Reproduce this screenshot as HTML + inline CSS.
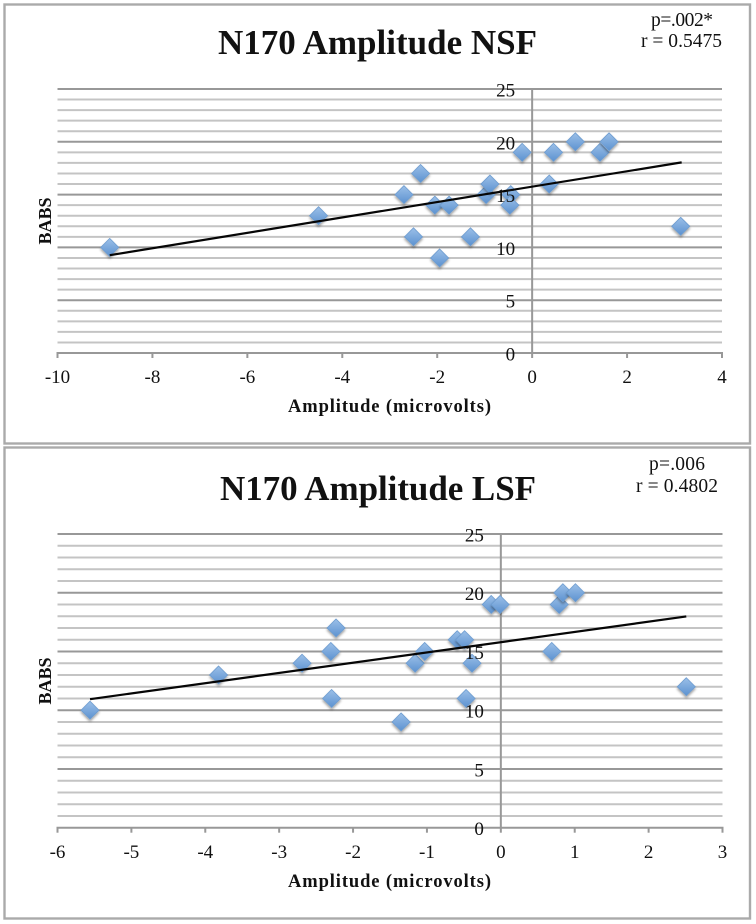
<!DOCTYPE html>
<html lang="en">
<head>
<meta charset="utf-8">
<title>N170 Amplitude vs BABS</title>
<style>
html,body{margin:0;padding:0;background:#fff;width:756px;height:924px;overflow:hidden}
svg{display:block;filter:blur(0.35px)}
text{font-family:"Liberation Serif",serif;fill:#111}
.b{font-weight:bold}
</style>
</head>
<body>
<svg id="figure" xmlns="http://www.w3.org/2000/svg" width="756" height="924" viewBox="0 0 756 924">
  <defs>
    <linearGradient id="markerFill" x1="0" y1="0" x2="0" y2="1">
      <stop offset="0" stop-color="#9cc0e8"/>
      <stop offset="1" stop-color="#5c92d0"/>
    </linearGradient>
    <filter id="markerShadow" x="-50%" y="-50%" width="200%" height="200%">
      <feDropShadow dx="0" dy="2" stdDeviation="1.3" flood-color="#000" flood-opacity="0.38"/>
    </filter>
  </defs>

  <g id="chart-nsf">
    <rect x="4.5" y="4.5" width="745.5" height="439" fill="#fff" stroke="#aaa" stroke-width="2.4"/>
    <text class="b" x="218" y="54" font-size="35" textLength="319" lengthAdjust="spacing">N170 Amplitude NSF</text>
    <text x="651" y="26" font-size="19.5" textLength="62">p=.002*</text>
    <text x="641" y="47" font-size="19.5" textLength="81">r = 0.5475</text>
    <text class="b" x="288" y="412" font-size="18.5" textLength="203">Amplitude (microvolts)</text>
    <text class="b" transform="translate(51,221) rotate(-90)" font-size="18" text-anchor="middle">BABS</text>
  </g>

  <g id="chart-lsf">
    <rect x="4.5" y="447.5" width="745.5" height="471" fill="#fff" stroke="#aaa" stroke-width="2.4"/>
    <text class="b" x="220" y="500" font-size="35" textLength="316" lengthAdjust="spacing">N170 Amplitude LSF</text>
    <text x="649" y="470" font-size="19.5" textLength="56">p=.006</text>
    <text x="636" y="492" font-size="19.5" textLength="82">r = 0.4802</text>
    <text class="b" x="288" y="887" font-size="18.5" textLength="203">Amplitude (microvolts)</text>
    <text class="b" transform="translate(51,681) rotate(-90)" font-size="18" text-anchor="middle">BABS</text>
  </g>
</svg>

<script>
// NSF chart data
const nsfAmplitude = [-8.9, -4.5, -2.7, -2.35, -2.5, -2.05, -1.75, -1.95, -1.3, -0.97, -0.89, -0.45, -0.47, -0.21, 0.36, 0.45, 0.91, 1.43, 1.62, 3.13];
const nsfBabs      = [10, 13, 15, 17, 11, 14, 14, 9, 11, 15, 16, 15, 14, 19, 16, 19, 20, 19, 20, 12];
const nsfTrendX = [-8.9, 3.15];
const nsfTrendY = [9.26, 18.05];
const nsfXTicks = [-10, -8, -6, -4, -2, 0, 2, 4];
const nsfYTicks = [0, 5, 10, 15, 20, 25];

// LSF chart data
const lsfAmplitude = [-5.56, -3.82, -2.69, -2.30, -2.29, -2.23, -1.35, -1.16, -1.03, -0.59, -0.49, -0.47, -0.39, -0.13, -0.01, 0.69, 0.79, 0.84, 1.01, 2.51];
const lsfBabs      = [10, 13, 14, 15, 11, 17, 9, 14, 15, 16, 16, 11, 14, 19, 19, 15, 19, 20, 20, 12];
const lsfTrendX = [-5.56, 2.51];
const lsfTrendY = [10.94, 17.98];
const lsfXTicks = [-6, -5, -4, -3, -2, -1, 0, 1, 2, 3];
const lsfYTicks = [0, 5, 10, 15, 20, 25];

const NS = 'http://www.w3.org/2000/svg';

function node(parent, tag, attrs, text) {
  const el = document.createElementNS(NS, tag);
  for (const k in attrs) el.setAttribute(k, attrs[k]);
  if (text !== undefined) el.textContent = text;
  parent.appendChild(el);
  return el;
}

function linearScale(d0, d1, r0, r1) {
  return function (v) { return r0 + (v - d0) * (r1 - r0) / (d1 - d0); };
}

function drawChart(groupId, prefix, xs, ys, trendX, trendY, xTicks, yTicks, box) {
  const root = document.getElementById(groupId);
  const xMin = xTicks[0], xMax = xTicks[xTicks.length - 1];
  const yMin = yTicks[0], yMax = yTicks[yTicks.length - 1];
  const x = linearScale(xMin, xMax, box.left, box.right);
  const y = linearScale(yMin, yMax, box.bottom, box.top);
  const majorStep = yTicks[1] - yTicks[0];

  // gridlines (one per BABS unit, heavier on labelled values)
  for (let v = yMin + 1; v <= yMax; v++) {
    const major = v % majorStep === 0;
    const grid = node(root, 'line', {
      x1: box.left, x2: box.right, y1: y(v), y2: y(v),
      stroke: major ? '#989898' : '#c4c4c4',
      'stroke-width': 2
    });
    
    
  }

  // axes
  const xAxis = node(root, 'line', {
    x1: box.left - 1, x2: box.right + 1, y1: y(0), y2: y(0),
    stroke: '#989898', 'stroke-width': 2
  });
  
  

  const yAxis = node(root, 'line', {
    x1: x(0), x2: x(0), y1: y(yMax), y2: y(0),
    stroke: '#989898', 'stroke-width': 2
  });
  
  

  xTicks.forEach(function (t) {
    const tick = node(root, 'line', {
      x1: x(t), x2: x(t), y1: y(0), y2: y(0) + 5,
      stroke: '#989898', 'stroke-width': 2
    });
    
    
  });

  // markers
  const r = 9;
  xs.forEach(function (val, i) {
    const cx = x(val), cy = y(ys[i]);
    const pts = [[cx, cy - r], [cx + r, cy], [cx, cy + r], [cx - r, cy]].map(function (p) { return p.join(','); }).join(' ');
    const m = node(root, 'polygon', {
      points: pts, fill: 'url(#markerFill)', stroke: '#6d9cd0', 'stroke-width': 0.8,
      filter: 'url(#markerShadow)'
    });
    
    
  });

  // trendline
  const trend = node(root, 'line', {
    x1: x(trendX[0]), y1: y(trendY[0]), x2: x(trendX[1]), y2: y(trendY[1]),
    stroke: '#060606', 'stroke-width': 2.2
  });
  
  

  // tick labels
  xTicks.forEach(function (t) {
    const label = node(root, 'text', {
      x: x(t), y: box.xLabelY, 'font-size': 19, 'text-anchor': 'middle'
    }, String(t));
    
    
  });
  yTicks.forEach(function (t) {
    const label = node(root, 'text', {
      x: x(0) - 17, y: y(t) + 7.5, 'font-size': 19, 'text-anchor': 'end'
    }, String(t));
    
    
  });
}

drawChart('chart-nsf', 'nsf', nsfAmplitude, nsfBabs, nsfTrendX, nsfTrendY, nsfXTicks, nsfYTicks,
  { left: 57.5, right: 722, top: 89, bottom: 353, xLabelY: 383 });
drawChart('chart-lsf', 'lsf', lsfAmplitude, lsfBabs, lsfTrendX, lsfTrendY, lsfXTicks, lsfYTicks,
  { left: 57.5, right: 722.5, top: 534, bottom: 827.7, xLabelY: 858 });
</script>
</body>
</html>
